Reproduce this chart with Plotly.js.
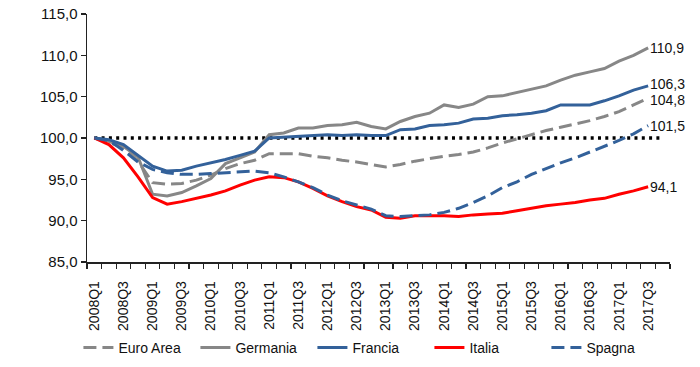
<!DOCTYPE html>
<html>
<head>
<meta charset="utf-8">
<script src="https://cdn.plot.ly/plotly-3.0.1.min.js"></script>
<style>
  html, body { margin: 0; padding: 0; background: #fff; }
  #chart { width: 700px; height: 367px; }
</style>
</head>
<body>
<div id="chart"></div>
<script>
// Quarters on the axis (2008Q1 .. 2017Q4)
const quarters = [
  "2008Q1","2008Q2","2008Q3","2008Q4","2009Q1","2009Q2","2009Q3","2009Q4",
  "2010Q1","2010Q2","2010Q3","2010Q4","2011Q1","2011Q2","2011Q3","2011Q4",
  "2012Q1","2012Q2","2012Q3","2012Q4","2013Q1","2013Q2","2013Q3","2013Q4",
  "2014Q1","2014Q2","2014Q3","2014Q4","2015Q1","2015Q2","2015Q3","2015Q4",
  "2016Q1","2016Q2","2016Q3","2016Q4","2017Q1","2017Q2","2017Q3","2017Q4"
];

// Series (2008Q1 = 100), 2008Q1 .. 2017Q3
const euroArea = [100,99.5,98.8,97.2,94.6,94.4,94.5,94.9,95.5,96.3,96.9,97.3,98.1,98.1,98.1,97.8,
  97.6,97.3,97.1,96.8,96.5,96.8,97.2,97.5,97.8,98.0,98.3,98.8,99.4,99.9,100.4,100.9,
  101.3,101.7,102.1,102.6,103.2,104.0,104.8];
const germania = [100,99.6,99.0,97.7,93.2,93.0,93.4,94.2,95.1,96.9,97.6,98.3,100.4,100.6,101.2,101.2,
  101.5,101.6,101.9,101.4,101.1,102.0,102.6,103.0,104.0,103.7,104.1,105.0,105.1,105.5,105.9,106.3,
  107.0,107.6,108.0,108.4,109.3,110.0,110.9];
const francia = [100,99.8,99.2,97.9,96.6,96.0,96.1,96.6,97.0,97.4,97.9,98.4,100.0,100.1,100.2,100.3,
  100.4,100.3,100.4,100.3,100.3,101.0,101.1,101.5,101.6,101.8,102.3,102.4,102.7,102.8,103.0,103.3,
  104.0,104.0,104.0,104.5,105.1,105.8,106.3];
const italia = [100,99.2,97.6,95.3,92.8,92.0,92.3,92.7,93.1,93.6,94.3,94.9,95.3,95.2,94.7,93.9,
  93.0,92.3,91.7,91.3,90.4,90.3,90.6,90.6,90.6,90.5,90.7,90.8,90.9,91.2,91.5,91.8,
  92.0,92.2,92.5,92.7,93.2,93.6,94.1];
const spagna = [100,99.7,98.5,97.1,96.2,95.8,95.6,95.6,95.7,95.8,95.9,96.0,95.8,95.3,94.7,94.0,
  93.1,92.4,91.9,91.4,90.6,90.5,90.6,90.7,91.0,91.5,92.2,93.0,94.0,94.7,95.6,96.3,
  97.0,97.6,98.3,99.0,99.7,100.5,101.5];
const refLevel = [100, 100];
const refIdx = [0, 39];

const seriesNames = ["Euro Area","Germania","Francia","Italia","Spagna"];
const endLabels = ["104,8","110,9","106,3","94,1","101,5"];
const endShift = [-2, 0, 2, 0, 0];

const gray = "#878787";
const blue = "#33619A";
const red = "#FF0000";
const FONT = "Liberation Sans, Arial, sans-serif";

const idx = euroArea.map((_, i) => i);
const lw = 3;

const traces = [
  { x: refIdx, y: refLevel, mode: "lines", showlegend: false, hoverinfo: "skip",
    line: { color: "#000", width: 3.5, dash: "3px,4.3px" } },
  { x: idx, y: euroArea, name: seriesNames[0], mode: "lines", line: { color: gray, width: lw, dash: "13px,6px" } },
  { x: idx, y: germania, name: seriesNames[1], mode: "lines", line: { color: gray, width: lw } },
  { x: idx, y: francia, name: seriesNames[2], mode: "lines", line: { color: blue, width: lw } },
  { x: idx, y: italia, name: seriesNames[3], mode: "lines", line: { color: red, width: lw } },
  { x: idx, y: spagna, name: seriesNames[4], mode: "lines", line: { color: blue, width: lw, dash: "13px,6px" } }
];

const lastVals = [euroArea, germania, francia, italia, spagna].map(s => s[s.length - 1]);
const annotations = lastVals.map((v, k) => ({
  x: idx[idx.length - 1], y: v, xref: "x", yref: "y", text: endLabels[k],
  showarrow: false, xanchor: "left", yanchor: "middle", xshift: 0, yshift: endShift[k],
  font: { family: FONT, size: 14, color: "#111" }
}));

const tickIdx = quarters.map((_, i) => i).filter(i => i % 2 === 0);
const tickTxt = tickIdx.map(i => quarters[i]);

const layout = {
  width: 700, height: 367,
  margin: { l: 87, r: 30, t: 14, b: 105 },
  paper_bgcolor: "#fff", plot_bgcolor: "#fff",
  separators: ", ",
  font: { family: FONT, size: 14, color: "#111" },
  showlegend: true,
  legend: { orientation: "h", xref: "paper", x: 0.487, xanchor: "center",
            yref: "container", y: 0.052, yanchor: "middle",
            entrywidth: 72, entrywidthmode: "pixels",
            font: { family: FONT, size: 14, color: "#111" }, traceorder: "normal" },
  xaxis: {
    range: [-0.5, 39.5], showgrid: false, zeroline: false, automargin: false,
    showline: true, linecolor: "#222", linewidth: 1.5,
    tickmode: "array", tickvals: tickIdx, ticktext: tickTxt,
    tickangle: -90, ticks: "", tickfont: { family: FONT, size: 14, color: "#111" },
    ticklabelstandoff: 12,
    minor: { tick0: -0.5, dtick: 1, ticks: "outside", ticklen: 5, tickcolor: "#222", tickwidth: 1.2, showgrid: false }
  },
  yaxis: {
    range: [85, 115], dtick: 5, tick0: 85, tickformat: ".1f", automargin: false,
    showgrid: false, zeroline: false,
    showline: true, linecolor: "#222", linewidth: 1.5,
    ticks: "outside", ticklen: 5, tickcolor: "#222", tickwidth: 1.2,
    tickfont: { family: FONT, size: 15, color: "#111" }
  },
  annotations: annotations
};

Plotly.newPlot("chart", traces, layout, { displayModeBar: false, staticPlot: true });
</script>
</body>
</html>
